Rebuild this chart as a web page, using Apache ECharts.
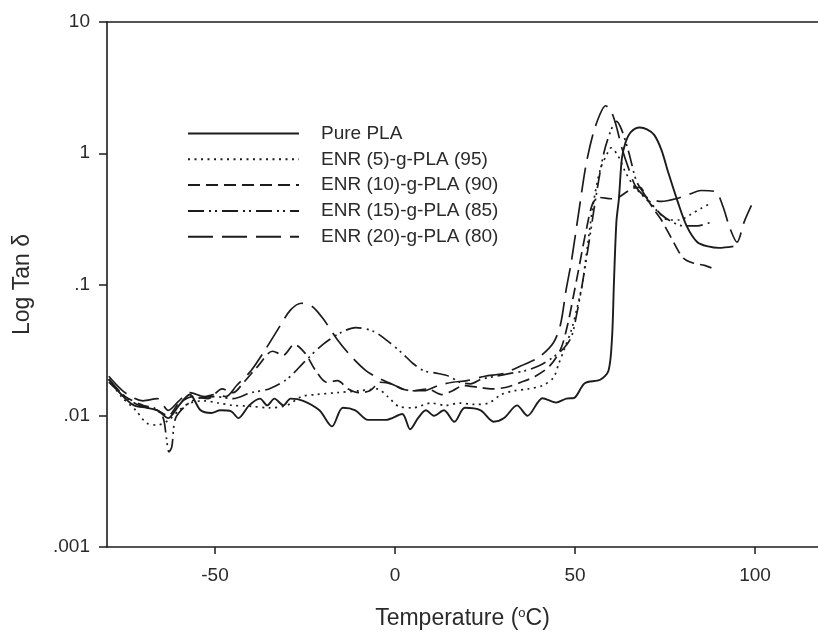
<!DOCTYPE html>
<html>
<head>
<meta charset="utf-8">
<script src="https://cdn.jsdelivr.net/npm/echarts@6/dist/echarts.min.js"></script>
<style>
html,body{margin:0;padding:0;background:#fff;}
#chart{width:818px;height:635px;}
</style>
</head>
<body>
<div id="chart"></div>
<script>
// ---- data ----
var seriesNames = ['Pure PLA', 'ENR (5)-g-PLA (95)', 'ENR (10)-g-PLA (90)', 'ENR (15)-g-PLA (85)', 'ENR (20)-g-PLA (80)'];
var xTickValues = [-50, 0, 50, 100];
var yTickLabels = ['.001', '.01', '.1', '1', '10'];

var plaT = [-79.5,-76,-72.5,-69,-66,-63,-60,-57,-54,-51,-48.5,-45.5,-43.5,-40.5,-37.5,-35.5,-33.5,-31,-29,-25.5,-21,-17.5,-14.5,-11,-7.5,-2.5,2,4.2,6.4,8.6,10.8,13.6,16.5,19.4,23.8,27.4,30.3,33.9,36.8,41,44.7,47.6,49.8,52.7,57,59.3,60.3,60.8,61.5,62.2,63,64,65.5,68,70,72,74,76,78.5,81,84,87,90,94];
var plaV = [0.019,0.0145,0.012,0.0115,0.011,0.0096,0.012,0.0145,0.011,0.0105,0.011,0.0108,0.0096,0.012,0.0135,0.012,0.0135,0.012,0.0135,0.013,0.011,0.0083,0.0115,0.011,0.0093,0.0093,0.0103,0.0079,0.0096,0.011,0.010,0.011,0.009,0.0115,0.011,0.009,0.0096,0.012,0.010,0.0136,0.0126,0.0135,0.0137,0.0177,0.0188,0.022,0.04,0.1,0.3,0.45,0.9,1.2,1.45,1.57,1.52,1.38,1.06,0.7,0.43,0.28,0.21,0.195,0.19,0.195];

var enr5T = [-79.5,-76,-72,-69,-66,-63,-60,-57,-53,-49,-45,-40,-35,-30,-26,-22,-16,-10,-5,-2,1,5,10,14,18,22,26,29.5,33,37,41,44,45.5,47,49,50.5,52,53.5,55,57,59,60,62,64,66,68,70,73,76,79,82,85,88];
var enr5V = [0.019,0.014,0.011,0.0088,0.0085,0.0092,0.011,0.0125,0.013,0.0125,0.012,0.0118,0.0115,0.012,0.014,0.0145,0.015,0.0155,0.016,0.014,0.0118,0.0115,0.0125,0.012,0.0125,0.0122,0.0125,0.0145,0.0155,0.016,0.017,0.0195,0.025,0.032,0.045,0.065,0.1,0.2,0.4,0.75,1.0,1.1,0.95,0.72,0.58,0.5,0.44,0.36,0.31,0.31,0.34,0.38,0.42];

var enr10T = [-79.5,-75,-70,-66,-63,-60,-56,-52,-48,-45,-42,-38,-34,-31,-28,-25,-22,-19,-16,-13,-10,-7,-4,-1,2,5,9,13,16,19,23,27,31,35,39,43,46,48,49.5,51,53,55,57,60,62,64,66,68,70,72,74,77,80,83,86,89];
var enr10V = [0.018,0.014,0.012,0.011,0.010,0.0125,0.014,0.0135,0.016,0.015,0.018,0.024,0.031,0.029,0.035,0.03,0.022,0.018,0.0185,0.016,0.015,0.0155,0.018,0.0175,0.016,0.0155,0.016,0.0145,0.0155,0.017,0.0165,0.016,0.0165,0.018,0.02,0.024,0.032,0.05,0.08,0.13,0.25,0.42,0.46,0.45,0.46,0.5,0.54,0.55,0.45,0.37,0.31,0.22,0.16,0.145,0.14,0.13];

var enr15T = [-79.5,-75,-71,-67,-64.5,-63.5,-62.8,-62,-61,-58,-55,-50,-45,-40,-35,-30,-25,-20,-15,-11,-6,-2,2,5,8,12,15,18,21,24,28,32,36,40,44,47,49,50.5,52,54,56,58,60,61.5,63,65,67,69,71,74,77,80,84,88];
var enr15V = [0.019,0.014,0.012,0.0115,0.0098,0.0068,0.0053,0.0058,0.0095,0.012,0.0135,0.014,0.0135,0.015,0.016,0.019,0.026,0.035,0.043,0.047,0.044,0.037,0.03,0.025,0.022,0.021,0.02,0.018,0.0175,0.019,0.02,0.021,0.022,0.024,0.028,0.033,0.04,0.06,0.1,0.22,0.5,1.0,1.5,1.75,1.5,1.0,0.62,0.5,0.42,0.34,0.3,0.28,0.28,0.3];

var enr20T = [-79.5,-75,-70,-66,-63,-60,-57,-53,-50,-47,-44,-40,-36,-32,-29,-26,-23,-20,-16,-12,-8,-4,0,4,8,12,16,20,25,30,35,40,44,46,47.5,49,51,53,55,57,58.5,60,61.5,63,65,67,70,74,78,82,85,89,91,93,95,97,99];
var enr20V = [0.02,0.015,0.013,0.0135,0.011,0.013,0.015,0.014,0.0145,0.014,0.017,0.022,0.032,0.048,0.064,0.072,0.068,0.055,0.038,0.028,0.022,0.019,0.017,0.0155,0.0155,0.017,0.018,0.0185,0.02,0.021,0.024,0.028,0.036,0.05,0.09,0.15,0.35,0.8,1.4,2.0,2.3,2.1,1.6,1.1,0.75,0.55,0.46,0.43,0.45,0.49,0.52,0.51,0.4,0.27,0.21,0.3,0.4];

// ---- build ----
function zip(T, V) { return T.map(function (t, i) { return [t, V[i]]; }); }
var allT = [plaT, enr5T, enr10T, enr15T, enr20T];
var allV = [plaV, enr5V, enr10V, enr15V, enr20V];
var dashTypes = ['solid', [2, 4.5], [12, 6], [16, 5, 2, 4, 2, 5], [25, 9]];
var widths = [1.9, 1.7, 1.7, 1.7, 1.7];

var FONT = "'Liberation Sans', Arial, sans-serif";
var TXT = '#2a2a2a';
var LINE = '#1c1c1c';

var series = seriesNames.map(function (n, i) {
  return {
    name: n,
    type: 'line',
    xAxisIndex: 0,
    yAxisIndex: 0,
    data: zip(allT[i], allV[i]),
    showSymbol: false,
    symbol: 'none',
    smooth: 0.3,
    lineStyle: { color: LINE, width: widths[i], type: dashTypes[i] },
    itemStyle: { color: LINE },
    emphasis: { disabled: true },
    animation: false
  };
});

var chart = echarts.init(document.getElementById('chart'));
chart.setOption({
  backgroundColor: '#ffffff',
  animation: false,
  grid: { left: 107, right: 0, top: 22, bottom: 88, containLabel: false },
  legend: {
    data: seriesNames,
    orient: 'vertical',
    left: 182,
    top: 119,
    itemWidth: 111,
    itemHeight: 14,
    itemGap: 6.8,
    itemStyle: { opacity: 0, borderWidth: 0 },
    formatter: function (n) { return '{pad|}{t|' + n + '}'; },
    textStyle: {
      fontFamily: FONT, fontSize: 19, color: TXT,
      rich: { pad: { width: 17 }, t: { fontFamily: FONT, fontSize: 19, color: TXT, lineHeight: 20 } }
    },
    selectedMode: false
  },
  xAxis: [{
    type: 'value', min: -80, max: 117.5,
    name: '{a|Temperature (}{s|o}{a|C)}',
    nameLocation: 'middle', nameGap: 60,
    nameTextStyle: {
      rich: {
        a: { fontFamily: FONT, fontSize: 23, color: TXT },
        s: { fontFamily: FONT, fontSize: 13, color: TXT, verticalAlign: 'top', padding: [0, 0, 10, 0] }
      }
    },
    axisLine: { show: true, onZero: false, lineStyle: { color: LINE, width: 1.6 } },
    axisTick: { show: true, inside: false, length: 7, customValues: xTickValues, lineStyle: { color: LINE, width: 1.5 } },
    axisLabel: { customValues: xTickValues, margin: 19, fontFamily: FONT, fontSize: 19, color: TXT },
    splitLine: { show: false }
  }, {
    type: 'value', min: -80, max: 117.5, position: 'top',
    axisLine: { show: true, onZero: false, lineStyle: { color: LINE, width: 1.6 } },
    axisTick: { show: false }, axisLabel: { show: false }, splitLine: { show: false }
  }],
  yAxis: {
    type: 'log', logBase: 10, min: 0.001, max: 10,
    name: 'Log Tan δ',
    nameLocation: 'middle', nameGap: 73, nameRotate: 90,
    nameTextStyle: { fontFamily: FONT, fontSize: 23, color: TXT },
    axisLine: { show: true, onZero: false, lineStyle: { color: LINE, width: 1.6 } },
    axisTick: { show: true, inside: false, length: 8, lineStyle: { color: LINE, width: 1.5 } },
    axisLabel: {
      margin: 17, fontFamily: FONT, fontSize: 19, color: TXT,
      formatter: function (v) { var k = Math.round(Math.log10(v)) + 3; return yTickLabels[k]; }
    },
    splitLine: { show: false },
    minorTick: { show: false }
  },
  series: series
});
</script>
</body>
</html>
